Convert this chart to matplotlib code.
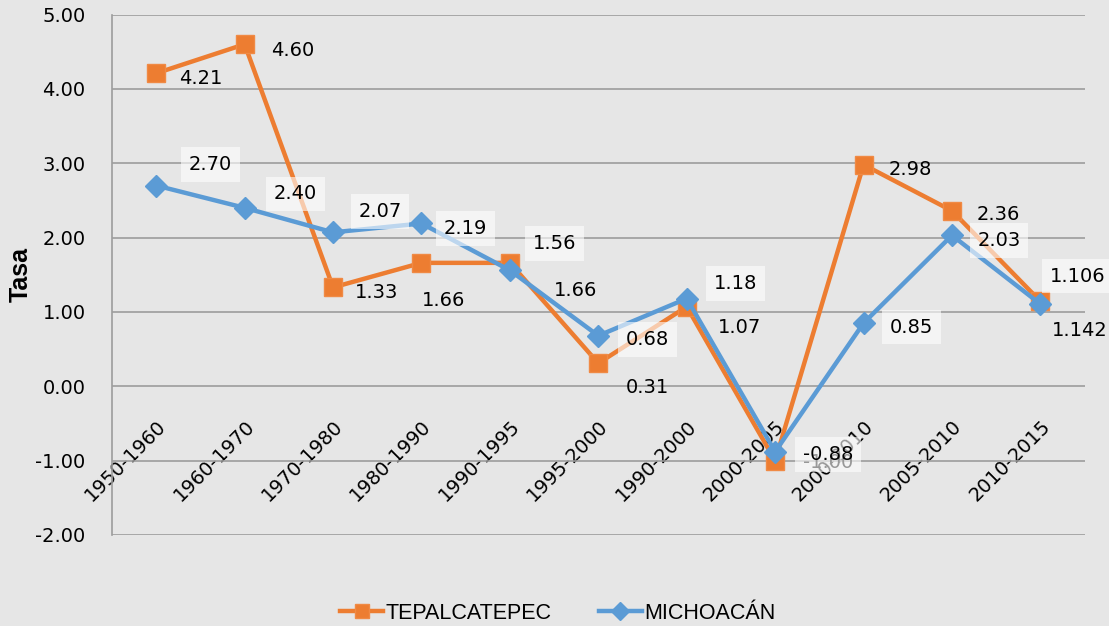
import matplotlib
matplotlib.use('Agg')
import matplotlib.pyplot as plt

plt.rcParams['axes.unicode_minus'] = False

# periods on the category axis
periods = ['1950-1960', '1960-1970', '1970-1980', '1980-1990', '1990-1995',
           '1995-2000', '1990-2000', '2000-2005', '2000-2010', '2005-2010',
           '2010-2015']

# growth rates
tepalcatepec = [4.21, 4.60, 1.33, 1.66, 1.66, 0.31, 1.07, -1.00, 2.98, 2.36, 1.142]
michoacan = [2.70, 2.40, 2.07, 2.19, 1.56, 0.68, 1.18, -0.88, 0.85, 2.03, 1.106]

tep_text = ['4.21', '4.60', '1.33', '1.66', '1.66', '0.31', '1.07', '-1.00',
            '2.98', '2.36', '1.142']
mich_text = ['2.70', '2.40', '2.07', '2.19', '1.56', '0.68', '1.18', '-0.88',
             '0.85', '2.03', '1.106']

# label offsets in pixels (dx, dy) from each marker
tep_off = [(45, -5), (48, -6), (44, -5), (22, -38), (66, -28), (49, -24),
           (53, -21), (53, -2), (47, -5), (46, -4), (39, -29)]
mich_off = [(54, 21), (51, 14), (47, 21), (44, -5), (45, 27), (49, -4),
            (49, 15), (53, -3), (48, -4), (47, -5), (37, 28)]

orange = '#ED7D31'
blue = '#5B9BD5'
bg = '#e6e6e6'
grid = '#9c9c9c'

fig = plt.figure(figsize=(11.09, 6.26), dpi=100, facecolor=bg)
ax = fig.add_axes([0.101, 0.1454, 0.877, 0.8314], facecolor=bg)

x = list(range(len(periods)))

ax.plot(x, tepalcatepec, color=orange, lw=3.2, marker='s', markersize=13,
        markerfacecolor=orange, markeredgecolor='#f08a45', label='TEPALCATEPEC', zorder=3)
ax.plot(x, michoacan, color=blue, lw=3.2, marker='D', markersize=11,
        markerfacecolor=blue, markeredgecolor=blue, label='MICHOACÁN', zorder=4)

for i in x:
    ax.annotate(tep_text[i], (i, tepalcatepec[i]), xytext=tep_off[i],
                textcoords='offset pixels', ha='center', va='center',
                fontsize=14, color='black', zorder=5)
    ax.annotate(mich_text[i], (i, michoacan[i]), xytext=mich_off[i],
                textcoords='offset pixels', ha='center', va='center',
                fontsize=14, color='black', zorder=6,
                bbox=dict(boxstyle='square,pad=0.4', fc='white', ec='none', alpha=0.6))

ax.set_xlim(-0.5, len(periods) - 0.5)
ax.set_ylim(-2, 5)
ax.set_yticks(range(-2, 6))
ax.set_yticklabels([f'{v:.2f}' for v in range(-2, 6)], fontsize=14)
ax.yaxis.grid(True, color=grid, lw=1.2)
ax.set_axisbelow(True)

# category axis crosses at zero
ax.spines['bottom'].set_position(('data', 0))
ax.spines['bottom'].set_visible(False)
ax.spines['top'].set_visible(False)
ax.spines['right'].set_visible(False)
ax.spines['left'].set_color(grid)
ax.spines['left'].set_linewidth(1.2)

ax.set_xticks(x)
ax.set_xticklabels(periods, rotation=45, ha='right', rotation_mode='anchor', fontsize=14)
ax.tick_params(axis='x', length=0, pad=22)
ax.tick_params(axis='y', length=0, pad=19)

ax.set_ylabel('Tasa', fontsize=18, fontweight='bold', family='Liberation Sans')
ax.yaxis.set_label_coords(-0.082, 0.5)

fig.legend(loc='lower center', bbox_to_anchor=(0.503, -0.027), ncol=2, frameon=False,
           prop={'family': 'Liberation Sans', 'size': 15.5},
           handlelength=2.0, handletextpad=0.1, columnspacing=2.2, markerscale=0.8)

fig.savefig('out.png', dpi=100, facecolor=bg)
